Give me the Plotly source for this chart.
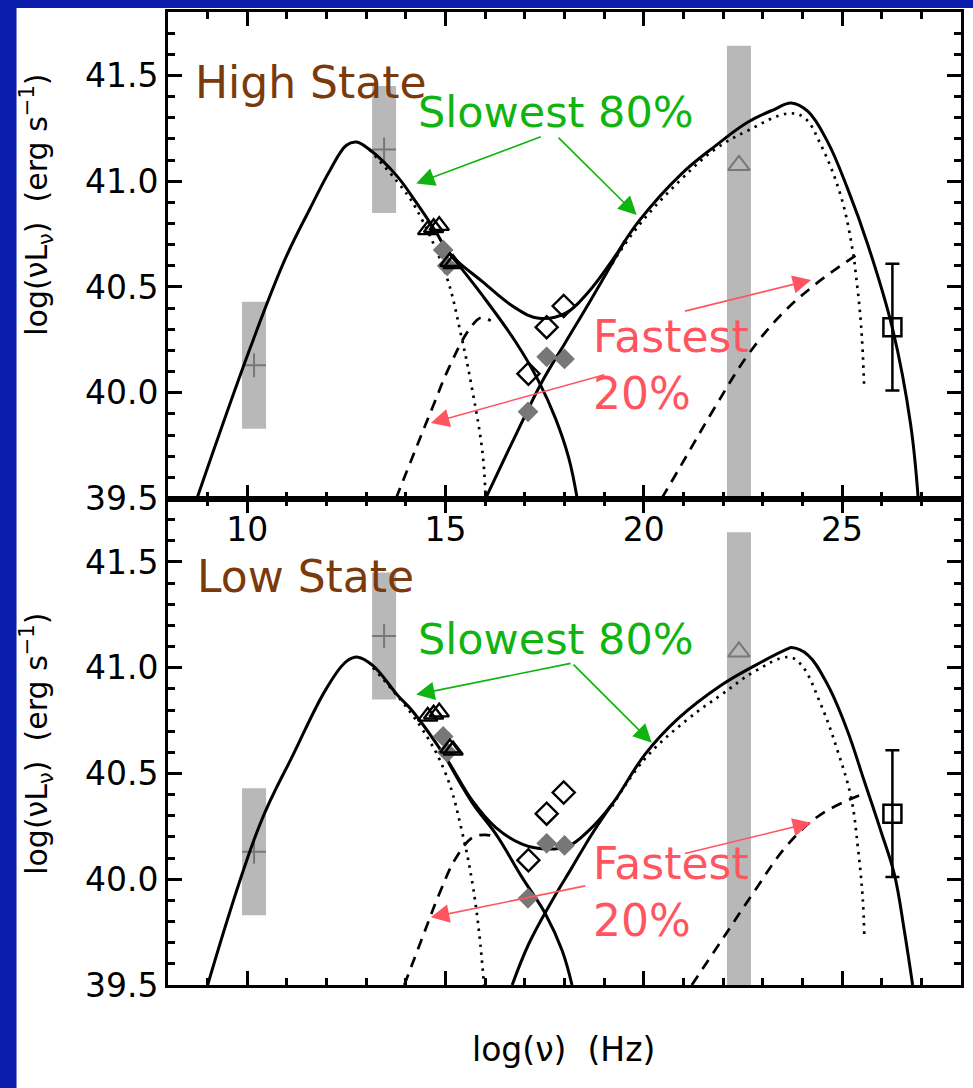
import plotly.graph_objects as go
from plotly.subplots import make_subplots

# ---------------- observed photometry (same in both states) ----------------
range_x = [10.17, 13.45]          # radio / IR ranges: grey bands with + marks
range_y = [40.13, 41.15]
range_err = [0.30, 0.30]

gamma_x = [22.40]                 # GeV band: grey band with open triangle
gamma_y = [41.075]
gamma_err_up = [0.565]
gamma_err_down = [1.70]

tev_x = [26.27]                   # TeV point with error bar
tev_y = [40.31]
tev_err = [0.30]

opt_x = [14.55, 14.70, 14.84, 15.11, 15.19]     # optical/UV, open triangles
opt_y = [40.77, 40.78, 40.79, 40.62, 40.61]

grey_x = [14.94, 15.04, 17.08, 17.55, 18.00]    # filled grey diamonds
grey_y = [40.675, 40.60, 39.91, 40.17, 40.16]

xray_x = [17.09, 17.55, 17.98]                  # X-ray, open diamonds
xray_y = [40.09, 40.31, 40.41]

# ---------------- model curves, high state ----------------
hi_tot_x = [8.73, 10.07, 10.95, 11.58, 12.08, 12.50, 12.75, 13.08, 13.75, 14.26, 14.76,
            15.09, 15.93, 16.77, 17.35, 18.03, 18.61, 19.20, 19.87, 20.95, 21.79, 22.63,
            23.30, 23.72, 24.14, 24.64, 25.14, 25.65, 26.27, 26.73, 26.92]
hi_tot_y = [39.50, 40.21, 40.63, 40.87, 41.05, 41.17, 41.185, 41.15, 41.03, 40.90, 40.76,
            40.66, 40.525, 40.40, 40.352, 40.376, 40.478, 40.625, 40.81, 41.035, 41.165, 41.28,
            41.34, 41.37, 41.33, 41.185, 40.965, 40.70, 40.305, 39.85, 39.50]
hi_syn_x = [15.09, 15.93, 16.77, 17.35, 17.77, 18.11, 18.32]
hi_syn_y = [40.66, 40.46, 40.24, 40.054, 39.88, 39.69, 39.50]
hi_ic_x = [16.01, 16.77, 17.44, 18.03, 18.69, 19.53]
hi_ic_y = [39.50, 39.80, 40.054, 40.24, 40.447, 40.72]
hi_slow_syn_x = [13.08, 13.92, 14.26, 15.01, 15.39, 15.68, 15.93, 16.01]
hi_slow_syn_y = [41.15, 40.965, 40.87, 40.557, 40.274, 40.007, 39.72, 39.50]
hi_slow_ic_x = [19.20, 19.87, 20.95, 21.79, 22.63, 23.64, 24.05, 24.47, 24.97, 25.27,
                25.35, 25.48, 25.56]
hi_slow_ic_y = [40.61, 40.79, 41.01, 41.15, 41.24, 41.32, 41.30, 41.17, 40.93, 40.67,
                40.557, 40.32, 40.015]
hi_fast_syn_x = [13.75, 14.26, 14.67, 15.09, 15.60, 15.90, 16.14]
hi_fast_syn_y = [39.50, 39.74, 39.93, 40.12, 40.30, 40.355, 40.34]
hi_fast_ic_x = [20.45, 20.95, 21.79, 22.63, 23.47, 24.31, 25.35]
hi_fast_ic_y = [39.50, 39.66, 39.93, 40.18, 40.37, 40.51, 40.65]

# ---------------- model curves, low state ----------------
lo_tot_x = [9.00, 10.32, 11.16, 11.99, 12.50, 12.79, 13.17, 13.79, 14.17, 15.01, 15.68,
            16.27, 16.93, 17.52, 18.11, 18.61, 19.20, 20.03, 20.87, 21.96, 22.80,
            23.64, 23.72, 24.14, 24.64, 25.14, 25.56, 25.98, 26.32, 26.57, 26.78]
lo_tot_y = [39.50, 40.26, 40.59, 40.90, 41.03, 41.05, 41.01, 40.87, 40.794, 40.574, 40.37,
            40.244, 40.166, 40.143, 40.158, 40.23, 40.355, 40.59, 40.76, 40.918, 41.01,
            41.09, 41.095, 41.06, 40.918, 40.70, 40.464, 40.227, 40.023, 39.758, 39.50]
lo_syn_x = [15.01, 15.68, 16.27, 16.93, 17.52, 17.94, 18.19]
lo_syn_y = [40.574, 40.36, 40.213, 40.009, 39.836, 39.663, 39.50]
lo_ic_x = [16.68, 17.10, 17.69, 18.19, 18.69, 19.20]
lo_ic_y = [39.50, 39.695, 39.90, 40.056, 40.213, 40.355]
lo_slow_syn_x = [13.17, 14.34, 15.01, 15.43, 15.68, 15.85, 15.97]
lo_slow_syn_y = [41.00, 40.73, 40.496, 40.213, 39.978, 39.742, 39.50]
lo_slow_ic_x = [19.20, 20.03, 21.13, 21.96, 22.80, 23.64, 23.97, 24.47, 24.89, 25.23,
                25.40, 25.52, 25.56]
lo_slow_ic_y = [40.345, 40.57, 40.76, 40.873, 40.983, 41.05, 41.014, 40.824, 40.606, 40.384,
                40.149, 39.913, 39.74]
lo_fast_syn_x = [13.96, 14.42, 14.84, 15.26, 15.68, 16.00, 16.27]
lo_fast_syn_y = [39.50, 39.726, 39.93, 40.10, 40.197, 40.21, 40.20]
lo_fast_ic_x = [21.21, 21.96, 22.80, 23.64, 24.47, 25.60]
lo_fast_ic_y = [39.50, 39.71, 39.946, 40.166, 40.307, 40.408]

x_ticks = [10, 15, 20, 25]
y_ticks = [39.5, 40.0, 40.5, 41.0, 41.5]
y_ticklabels = ["39.5", "40.0", "40.5", "41.0", "41.5"]

BLUE = "#0a1eab"
GREY_BAND = "#b8b8b8"
GREY_MARK = "#777777"
GREEN = "#10b410"
RED = "#ff5560"
BROWN = "#7a3a0c"
TICK_FONT = dict(family="DejaVu Sans", size=33, color="black")
NOTE_FONT = "DejaVu Sans"
NOTE_SIZE = 44

fig = make_subplots(rows=2, cols=1, vertical_spacing=0)

panels = [
    dict(row=1,
         tot=(hi_tot_x, hi_tot_y), syn=(hi_syn_x, hi_syn_y), ic=(hi_ic_x, hi_ic_y),
         slow=[(hi_slow_syn_x, hi_slow_syn_y), (hi_slow_ic_x, hi_slow_ic_y)],
         fast=[(hi_fast_syn_x, hi_fast_syn_y), (hi_fast_ic_x, hi_fast_ic_y)]),
    dict(row=2,
         tot=(lo_tot_x, lo_tot_y), syn=(lo_syn_x, lo_syn_y), ic=(lo_ic_x, lo_ic_y),
         slow=[(lo_slow_syn_x, lo_slow_syn_y), (lo_slow_ic_x, lo_slow_ic_y)],
         fast=[(lo_fast_syn_x, lo_fast_syn_y), (lo_fast_ic_x, lo_fast_ic_y)]),
]

SMOOTH = 1.1

for p in panels:
    r = p["row"]
    # grey measurement bands
    fig.add_trace(go.Scatter(
        x=range_x, y=range_y, mode="markers",
        marker=dict(symbol="cross-thin-open", size=17, color=GREY_MARK,
                    line=dict(color=GREY_MARK, width=2)),
        error_y=dict(type="data", array=range_err, color=GREY_BAND, thickness=24, width=0),
        showlegend=False), row=r, col=1)
    fig.add_trace(go.Scatter(
        x=gamma_x, y=gamma_y, mode="markers",
        marker=dict(symbol="triangle-up-open", size=19, color=GREY_MARK,
                    line=dict(color=GREY_MARK, width=2)),
        error_y=dict(type="data", symmetric=False, array=gamma_err_up,
                     arrayminus=gamma_err_down, color=GREY_BAND, thickness=24, width=0),
        showlegend=False), row=r, col=1)

    # model curves
    for xs, ys in p["slow"]:
        fig.add_trace(go.Scatter(x=xs, y=ys, mode="lines",
                                 line=dict(color="black", width=2.7, dash="2.5px,5.5px",
                                           shape="spline", smoothing=SMOOTH),
                                 showlegend=False), row=r, col=1)
    for xs, ys in p["fast"]:
        fig.add_trace(go.Scatter(x=xs, y=ys, mode="lines",
                                 line=dict(color="black", width=2.7, dash="11px,8px",
                                           shape="spline", smoothing=SMOOTH),
                                 showlegend=False), row=r, col=1)
    for key in ("syn", "ic", "tot"):
        xs, ys = p[key]
        fig.add_trace(go.Scatter(x=xs, y=ys, mode="lines",
                                 line=dict(color="black", width=3,
                                           shape="spline", smoothing=SMOOTH),
                                 showlegend=False), row=r, col=1)

    # data points
    fig.add_trace(go.Scatter(
        x=tev_x, y=tev_y, mode="markers",
        marker=dict(symbol="square-open", size=18, color="black",
                    line=dict(color="black", width=2.5)),
        error_y=dict(type="data", array=tev_err, color="black", thickness=2.5, width=7),
        showlegend=False), row=r, col=1)
    fig.add_trace(go.Scatter(
        x=grey_x, y=grey_y, mode="markers",
        marker=dict(symbol="diamond", size=16, color=GREY_MARK),
        showlegend=False), row=r, col=1)
    fig.add_trace(go.Scatter(
        x=opt_x, y=opt_y, mode="markers",
        marker=dict(symbol="triangle-up-open", size=17, color="black",
                    line=dict(color="black", width=2.4)),
        showlegend=False), row=r, col=1)
    fig.add_trace(go.Scatter(
        x=xray_x, y=xray_y, mode="markers",
        marker=dict(symbol="diamond-open", size=17, color="black",
                    line=dict(color="black", width=2.4)),
        showlegend=False), row=r, col=1)

axis_common = dict(
    range=[8, 28], showline=True, linecolor="black", linewidth=3, mirror="allticks",
    ticks="inside", ticklen=14, tickwidth=2.5, tickcolor="black",
    tickvals=x_ticks, showgrid=False, zeroline=False,
    minor=dict(dtick=1, tick0=0, ticks="inside", ticklen=7, tickwidth=2.5,
               tickcolor="black", showgrid=False),
)
fig.update_xaxes(**axis_common, showticklabels=True, tickfont=TICK_FONT,
                 ticklabelstandoff=0, row=1, col=1)
fig.update_xaxes(**axis_common, showticklabels=False, row=2, col=1)

yaxis_common = dict(
    range=[39.5, 41.8], showline=True, linecolor="black", linewidth=3, mirror="allticks",
    ticks="inside", ticklen=14, tickwidth=2.5, tickcolor="black",
    tickvals=y_ticks, ticktext=y_ticklabels, tickfont=TICK_FONT, showgrid=False,
    zeroline=False, ticklabelstandoff=0,
    minor=dict(dtick=0.1, tick0=39.5, ticks="inside", ticklen=7, tickwidth=2.5,
               tickcolor="black", showgrid=False),
)
fig.update_yaxes(**yaxis_common, row=1, col=1)
fig.update_yaxes(**yaxis_common, row=2, col=1)
fig.update_layout(yaxis=dict(domain=[0.5, 1.0]), yaxis2=dict(domain=[0.0, 0.5]))

annotations = []
# panel labels, arrows and captions, one set per panel
panel_notes = [
    dict(xr="x", yr="y", label=("High State", 8.62, 41.468),
         slow=(17.78, 41.326), green=[((17.44, 41.213), (14.26, 40.989)),
                                      ((17.81, 41.213), (19.82, 40.84))],
         fast=(18.66, 40.13), red=[((21.0, 40.384), (24.22, 40.533)),
                                   ((19.04, 40.087), (14.63, 39.857))]),
    dict(xr="x2", yr="y2", label=("Low State", 8.67, 41.43),
         slow=(17.78, 41.134), green=[((18.19, 41.022), (14.26, 40.873)),
                                      ((18.19, 41.022), (20.20, 40.645))],
         fast=(18.66, 39.94), red=[((21.0, 40.12), (24.22, 40.267)),
                                   ((18.56, 39.97), (14.63, 39.82))]),
]
for n in panel_notes:
    txt, lx, ly = n["label"]
    annotations.append(dict(xref=n["xr"], yref=n["yr"], x=lx, y=ly, text=txt,
                            showarrow=False, xanchor="left", yanchor="middle",
                            font=dict(family=NOTE_FONT, size=NOTE_SIZE, color=BROWN)))
    annotations.append(dict(xref=n["xr"], yref=n["yr"], x=n["slow"][0], y=n["slow"][1],
                            text="Slowest 80%", showarrow=False,
                            xanchor="center", yanchor="middle",
                            font=dict(family=NOTE_FONT, size=NOTE_SIZE - 1, color=GREEN)))
    annotations.append(dict(xref=n["xr"], yref=n["yr"], x=n["fast"][0], y=n["fast"][1],
                            text="Fastest<br>20%", showarrow=False, align="left",
                            xanchor="left", yanchor="middle",
                            font=dict(family=NOTE_FONT, size=NOTE_SIZE, color=RED)))
    for color, arrows in ((GREEN, n["green"]), (RED, n["red"])):
        for (tx, ty), (hx, hy) in arrows:
            annotations.append(dict(xref=n["xr"], yref=n["yr"], axref=n["xr"], ayref=n["yr"],
                                    x=hx, y=hy, ax=tx, ay=ty, text="", showarrow=True,
                                    arrowhead=2, arrowsize=2.3, arrowwidth=1.6,
                                    arrowcolor=color, standoff=0, startstandoff=0))

# axis titles
ytitle = "log(\u03bdL<sub>\u03bd</sub>)  (erg s<sup>\u22121</sup>)"
for yc in (0.802, 0.248):
    annotations.append(dict(xref="paper", yref="paper", x=-0.165, y=yc, text=ytitle,
                            textangle=-90, showarrow=False, xanchor="center",
                            yanchor="middle",
                            font=dict(family="DejaVu Sans", size=30, color="black")))
annotations.append(dict(xref="paper", yref="paper", x=0.499, y=-0.0667,
                        text="log(\u03bd)  (Hz)", showarrow=False,
                        xanchor="center", yanchor="middle",
                        font=dict(family="DejaVu Sans", size=33, color="black")))

fig.update_layout(
    width=973, height=1088,
    margin=dict(l=168, r=9, t=10, b=103),
    paper_bgcolor=BLUE, plot_bgcolor="white",
    showlegend=False,
    annotations=annotations,
    shapes=[dict(type="rect", xref="paper", yref="paper", x0=-0.191, x1=1.02,
                 y0=-0.12, y1=1.004, fillcolor="white", line=dict(width=0),
                 layer="below")],
)

fig.write_html("out.html")
